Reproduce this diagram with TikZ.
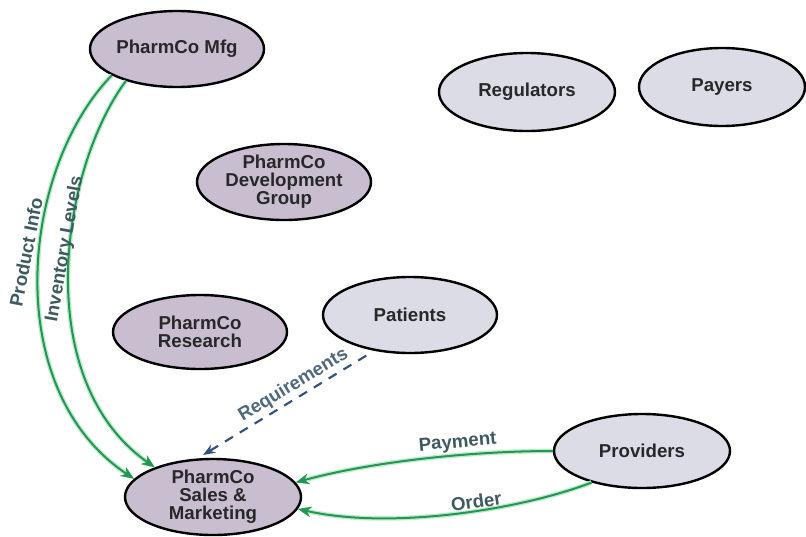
\documentclass[tikz,border=0pt]{standalone}
\usepackage{fontspec}
\setmainfont{Liberation Sans}
\usetikzlibrary{shapes.geometric,arrows.meta}
\definecolor{mauve}{RGB}{201,190,208}
\definecolor{lightlav}{RGB}{220,220,230}
\definecolor{nodetext}{RGB}{40,40,40}
\definecolor{flowgreen}{RGB}{34,150,82}
\definecolor{glowgreen}{RGB}{190,235,205}
\definecolor{labeltext}{RGB}{62,90,96}
\definecolor{reqblue}{RGB}{50,82,125}
\definecolor{reqtext}{RGB}{80,105,125}
\tikzset{
  party/.style={ellipse, draw=black, line width=1.8pt, inner sep=0pt,
    font=\fontsize{14}{13.5}\selectfont\bfseries, text=nodetext, align=center},
  internal/.style={party, fill=mauve},
  external/.style={party, fill=lightlav},
  flow/.style={draw=flowgreen, line width=1.5pt,
    preaction={draw=glowgreen, line width=3.5pt},
    -{Stealth[length=10pt,width=8pt]}},
  reqflow/.style={draw=reqblue, line width=1.6pt, dash pattern=on 7pt off 6pt,
    -{Stealth[length=9pt,width=7pt]}},
  flowlabel/.style={font=\fontsize{14}{14}\selectfont\bfseries, text=labeltext, inner sep=1pt},
}
\begin{document}
\begin{tikzpicture}[x=0.75pt,y=-0.75pt]
\useasboundingbox (0,0) rectangle (806,536);
\node[internal, minimum width=130.5pt, minimum height=57pt] (mfg) at (177,49) {PharmCo Mfg};
\node[internal, minimum width=130.5pt, minimum height=57pt] (dev) at (284,182) {PharmCo\\Development\\Group};
\node[external, minimum width=132pt, minimum height=58.5pt] (reg) at (527,92) {Regulators};
\node[external, minimum width=124.5pt, minimum height=58.5pt] (pay) at (722,87) {Payers};
\node[internal, minimum width=130.5pt, minimum height=55.5pt] (res) at (200,332) {PharmCo\\Research};
\node[external, minimum width=130.5pt, minimum height=57pt] (pat) at (410,315) {Patients};
\node[internal, minimum width=132pt, minimum height=57pt] (sales) at (213,497) {PharmCo\\Sales \&\\Marketing};
\node[external, minimum width=132pt, minimum height=55.5pt] (prov) at (642,451) {Providers};

\draw[flow] (mfg.202) .. controls (20,170) and (0,390) .. (sales.167);
\draw[flow] (mfg.212) .. controls (60,170) and (30,380) .. (sales.153);
\node[flowlabel, rotate=79] (lprod) at (26,252) {Product Info};
\node[flowlabel, rotate=80] (linv) at (65,249) {Inventory Levels};

\draw[reqflow, shorten <=7pt, shorten >=5pt] (pat.225) -- node[pos=0.42, above, sloped, text=reqtext, font=\fontsize{14}{14}\selectfont\bfseries, inner sep=2pt] {Requirements} (sales.112);

\draw[flow] (prov.180) .. controls (470,451) and (370,462) .. node[pos=0.36, above, sloped, flowlabel, inner sep=2pt] {Payment} (sales.10);
\draw[flow] (prov.212) .. controls (520,510) and (390,530) .. node[pos=0.42, above, sloped, flowlabel, inner sep=1pt] {Order} (sales.-8);
\end{tikzpicture}
\end{document}
